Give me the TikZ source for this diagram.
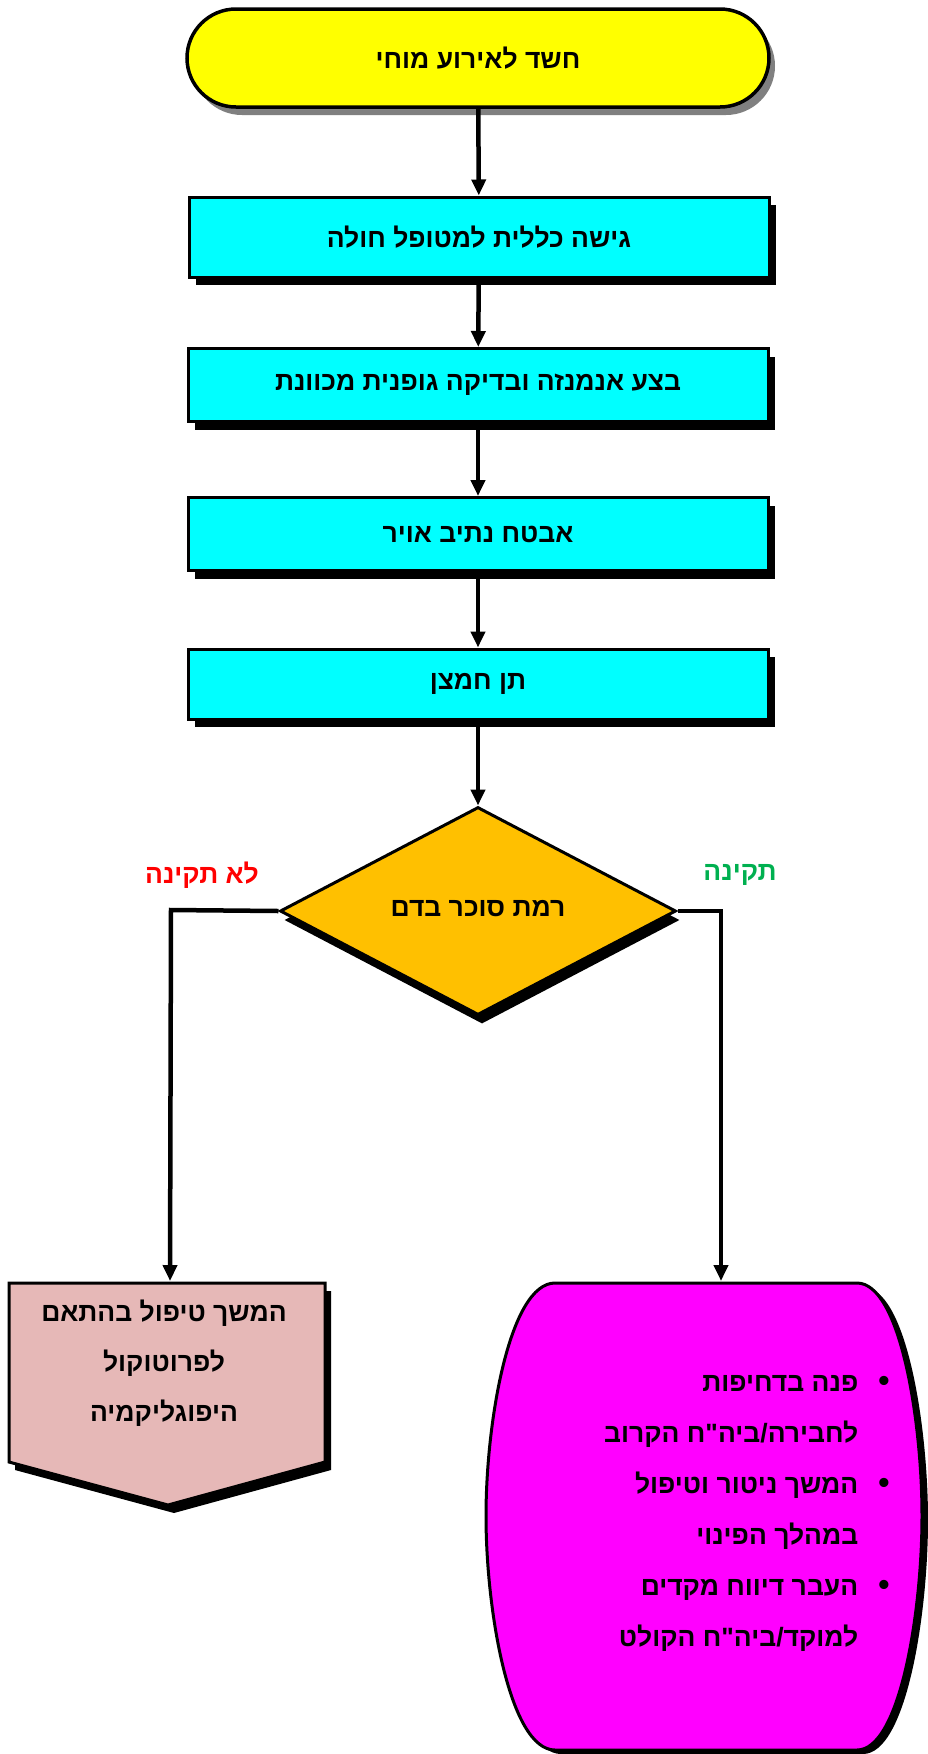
\documentclass[tikz,border=0pt]{standalone}
\usepackage{fontspec}
\newfontfamily\hebfont[Script=Hebrew,BoldFont={Liberation Sans Bold}]{Liberation Sans}
\TeXXeTstate=1
\usetikzlibrary{shapes.geometric,shadows,arrows.meta}
\newcommand{\heb}[1]{\beginR #1\endR}
\newcommand{\bul}{{\fontsize{32}{51}\selectfont •}}
\definecolor{sun}{HTML}{FFFF00}
\definecolor{aqua}{HTML}{00FFFF}
\definecolor{gold}{HTML}{FFC000}
\definecolor{rose}{HTML}{E6B8B7}
\definecolor{fuchsia}{HTML}{FF00FF}
\definecolor{alarm}{HTML}{FF0000}
\definecolor{okgreen}{HTML}{00B050}

\begin{document}
\begin{tikzpicture}[x=1pt,y=-1pt,
    every node/.style={font=\hebfont\bfseries\fontsize{26.5}{30}\selectfont},
    startbox/.style={draw,line width=3.5pt,fill=sun,rounded corners=49pt,
        minimum width=582pt,minimum height=98pt,
        drop shadow={shadow xshift=6pt,shadow yshift=-8pt,fill=gray,opacity=1}},
    stepbox/.style={draw,line width=3pt,fill=aqua,minimum width=580pt,
        drop shadow={shadow xshift=7pt,shadow yshift=-8pt,fill=black,opacity=1}},
    decision/.style={diamond,draw,line width=3pt,fill=gold,inner sep=0pt,
        minimum width=396pt,minimum height=208pt,
        drop shadow={shadow xshift=4pt,shadow yshift=-9pt,fill=black,opacity=1}},
    flow/.style={line width=4.5pt,-{Triangle[length=16pt,width=14pt]}}
]
    \useasboundingbox (0,0) rectangle (927,1754);

    \node [startbox] (event) at (478,58) {\heb{חשד לאירוע מוחי}};
    \node [stepbox,minimum height=80pt] (approach) at (479,237) {\heb{גישה כללית למטופל חולה}};
    \node [stepbox,minimum height=73pt] (exam) at (478,385) {\heb{בצע אנמנזה ובדיקה גופנית מכוונת}};
    \node [stepbox,minimum height=73pt] (airway) at (478,534) {\heb{אבטח נתיב אויר}};
    \node [stepbox,minimum height=70pt] (oxygen) at (478,684) {\heb{תן חמצן}};
    \node [decision] (sugar) at (478,911) {\raisebox{6pt}{\heb{רמת סוכר בדם}}};

    \node [text=alarm] (abnormal) at (202,875) {\heb{לא תקינה}};
    \node [text=okgreen] (normal) at (740,875) {\heb{תקינה}};

    % hypoglycaemia protocol
    \fill [black,xshift=6pt,yshift=-8pt] (9,1283) -- (325,1283) -- (325,1462) -- (168,1505) -- (9,1462) -- cycle;
    \filldraw [fill=rose,line width=3pt] (9,1283) -- (325,1283) -- (325,1462) -- (168,1505) -- (9,1462) -- cycle;
    \coordinate (hypotop) at (170,1281);
    \node [align=center,font=\hebfont\bfseries\fontsize{26.5}{50}\selectfont] (hypo) at (164,1363)
        {\heb{המשך טיפול בהתאם}\\\heb{לפרוטוקול}\\\heb{היפוגליקמיה}};

    % evacuation
    \fill [black,xshift=6pt,yshift=-4pt] (555,1283) -- (857,1283) .. controls (900,1283) and (922,1420) .. (922,1516)
        .. controls (922,1612) and (900,1750) .. (857,1750) -- (555,1750)
        .. controls (510,1750) and (486,1612) .. (486,1516) .. controls (486,1420) and (510,1283) .. (555,1283) -- cycle;
    \filldraw [fill=fuchsia,line width=3pt] (555,1283) -- (857,1283) .. controls (900,1283) and (922,1420) .. (922,1516)
        .. controls (922,1612) and (900,1750) .. (857,1750) -- (555,1750)
        .. controls (510,1750) and (486,1612) .. (486,1516) .. controls (486,1420) and (510,1283) .. (555,1283) -- cycle;
    \coordinate (evactop) at (721,1281);
    \node [align=right,anchor=east,font=\hebfont\bfseries\fontsize{26.5}{51}\selectfont] (evac) at (893,1513)
        {\heb{\bul\hspace{20pt}פנה בדחיפות}\\
         \heb{\hphantom{\bul}\hspace{20pt}לחבירה/ביה"ח הקרוב}\\
         \heb{\bul\hspace{20pt}המשך ניטור וטיפול}\\
         \heb{\hphantom{\bul}\hspace{20pt}במהלך הפינוי}\\
         \heb{\bul\hspace{20pt}העבר דיווח מקדים}\\
         \heb{\hphantom{\bul}\hspace{20pt}למוקד/ביה"ח הקולט}};

    \draw [flow] (event) -- (approach);
    \draw [flow] (approach) -- (exam);
    \draw [flow] (exam) -- (airway);
    \draw [flow] (airway) -- (oxygen);
    \draw [flow] (oxygen) -- (sugar);
    \draw [flow] (sugar.west) -- (171,910) -- (hypotop);
    \draw [flow] (sugar.east) -- (evactop |- sugar.east) -- (evactop);

\end{tikzpicture}
\end{document}
